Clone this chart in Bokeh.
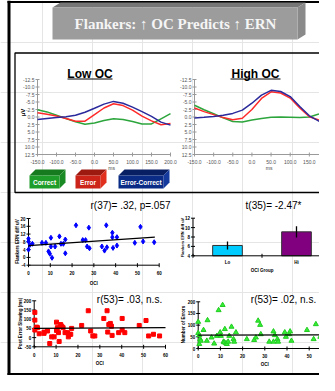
import numpy as np
from bokeh.plotting import figure
from bokeh.models import Range1d
from bokeh.embed import file_html
from bokeh.resources import INLINE
from bokeh.core.properties import value

# ---------------- data ----------------
title_text = "Flankers: \u2191 OC Predicts \u2191 ERN"

erp_ms = [-150, -125, -100, -75, -50, -25, 0, 25, 50, 75, 100, 125, 150, 175, 200]
low_correct = [-2.4, -1.7, -0.6, 0.5, 1.6, 2.4, 2.0, 1.2, 0.6, 0.8, 1.5, 2.3, 2.3, 0.6, -1.1]
low_error = [-1.4, -0.9, -0.3, 0.5, 1.4, 1.4, -0.8, -3.0, -4.4, -3.8, -2.3, -0.3, 1.3, 2.6, 2.2]
low_diff = [0.8, 0.5, 0.2, -0.1, -0.6, -1.6, -2.9, -4.3, -5.2, -4.6, -3.3, -1.8, -0.2, 1.7, 2.7]
high_correct = [-3.9, -2.4, -1.1, 0.3, 1.5, 1.7, 1.0, 0.5, 0.1, 0.0, 0.1, 0.2, 0.0, -1.0, -2.2]
high_error = [-3.0, -1.8, -0.8, 0.2, 0.9, 0.4, -2.5, -6.2, -8.4, -8.0, -6.3, -3.0, -0.1, 1.0, 1.1]
high_diff = [0.3, 0.1, -0.2, -0.6, -1.2, -2.3, -4.6, -7.3, -8.9, -8.5, -6.8, -3.5, -0.4, 1.4, 2.5]
erp_yticks = [-12.5, -10.0, -7.5, -5.0, -2.5, 0.0, 2.5, 5.0, 7.5, 10.0, 12.5]
erp_xticks = [-150, -100, -50, 0, 50, 100, 150, 200]
erp_xticks_high = [-150, -100, -50, 0, 50, 100, 150]

legend_names = ["Correct", "Error", "Error-Correct"]

blue_x = [0, 0, 0.6, 0, 1.8, 6.2, 8, 9.2, 9.8, 10.3, 10.3, 10.8, 12.2, 14.2, 14.9, 16, 16.9, 16.9,
          21.8, 24.9, 26.2, 26.9, 27.7, 28, 33.7, 34.9, 35.7, 36, 38.5, 38.5, 38.8, 40.6, 40.6,
          48.8, 51.4, 52.6, 57.7]
blue_y = [9.6, 8.2, 6.4, 4.0, 7.0, 7.5, 7.5, 3.1, 1.9, 10.1, 5.6, -0.2, 5.6, 10.8, 7.0, 7.0, 9.2, 2.1,
          16.5, 8.9, 8.9, 5.6, 15.3, 4.7, 5.6, 3.5, 16.5, 5.2, 12.7, 10.4, 4.9, 10.4, 6.1,
          7.5, 15.7, 8.2, 7.8]
blue_fit = (6.1, 0.074)   # intercept, slope

bar_groups = ["Lo", "Hi"]
bar_means = [6.2, 9.1]
bar_errs = [0.85, 1.2]
bar_colors = ["#00ccff", "#800080"]

red_x = [0.3, 0.3, 0.3, 1.1, 1.5, 2.3, 4.5, 4.5, 6.1, 7.1, 8, 9.1, 10.2, 10.2, 10.6, 11.1, 11.4,
         12.1, 12.6, 13.2, 14.1, 15.2, 15.6, 16.2, 16.7, 17.1, 21.7, 24.7, 25.8, 26.8, 27.7,
         31.8, 33.3, 33.6, 34.1, 34.8, 35.3, 35.6, 38.6, 40.2, 40.2, 41.4, 48, 51.1, 52.3, 54.5, 57.3]
red_y = [137, 95, 41, 57, 54, 21, 30, 23, 36, -32, 4, 4, 84, 39, 54, 27, -21,
         71, 62, 54, 27, 27, 4, 18, 18, 50, 66, 146, 36, 9, 9,
         104, 146, 30, 71, 77, 62, 12, 27, 104, 41, 27, 66, 93, 9, 18, 9]
red_fit = (50.0, 0.07)

green_x = [0, 0, 0.5, 0.5, 0.9, 1.2, 2.4, 3.9, 4.2, 6, 7.2, 8.4, 9.2, 9.9, 10.2, 11, 11.4, 11.7, 12,
           12.5, 12.9, 13.5, 14, 15, 15.9, 16.2, 17, 21.9, 25.2, 26, 27, 27.9, 28.2, 32, 33.9, 33.9,
           34.5, 35.7, 36, 39, 39.5, 41, 41.4, 42, 49, 52, 53, 55, 57.5]
green_y = [114, 66, 57, 19, 40, 33, 79, 33, 121, 47, 21, 54, 164, 69, 54, 186, 29, 26, 83,
           23, 19, 29, 54, 93, 40, 29, 69, 40, 36, 47, 119, 101, 61, 29, 29, 73,
           57, 40, 29, 69, 50, 61, 73, 33, 79, 40, 104, 50, 79]
green_fit = (57.0, 0.02)

oci_ticks = [0, 10, 20, 30, 40, 50, 60]
oci_ticks_green = [0, 10, 20, 30, 40, 50]

stat_texts = ["r(37)= .32, p=.057", "t(35)= -2.47*", "r(53)= .03, n.s.", "r(53)= .02, n.s."]

FONT = "Liberation Sans"
SERIF = "Liberation Serif"

# ---------------- canvas ----------------
X0, X1, Y0, Y1 = 8, 327, 383, 8
p = figure(width=319, height=375, x_range=Range1d(X0, X1), y_range=Range1d(Y0, Y1),
           output_backend="svg", toolbar_location=None, min_border=0,
           x_axis_location=None, y_axis_location=None)
p.outline_line_color = None
p.background_fill_color = "white"
p.border_fill_color = "white"

# panel placement: data value -> page pixel
panels = {
    "low":   (-150, 200, 45, 178, -12.5, 12.5, 87, 162),
    "high":  (-150, 200, 202, 336, -12.5, 12.5, 87, 162),
    "blue":  (0, 60, 36, 166.7, 20, -4, 226, 272.7),
    "bar":   (0, 2, 200.5, 338.5, 12, 4, 225.7, 263.3),
    "red":   (0, 60, 41.7, 173, 200, -50, 308.3, 354.3),
    "green": (0, 50, 205.7, 316.7, 200, 0, 309.3, 356),
}
xr, yr = {}, {}
for n, (dx0, dx1, px0, px1, dy0, dy1, py0, py1) in panels.items():
    kx = (px1 - px0) / (dx1 - dx0)
    ky = (py1 - py0) / (dy1 - dy0)
    xr[n] = Range1d(dx0 + (X0 - px0) / kx, dx0 + (X1 - px0) / kx)
    yr[n] = Range1d(dy0 + (Y0 - py0) / ky, dy0 + (Y1 - py0) / ky)
p.extra_x_ranges = xr
p.extra_y_ranges = yr


def R(n):
    return dict(x_range_name=n, y_range_name=n)


def txt(x, y, t, size, color="black", bold=False, align="center", baseline="middle",
        angle=0, font=FONT, xo=0, yo=0, **kw):
    p.text(x=x, y=y, text=t, text_font=value(font), text_font_size=size,
           text_font_style="bold" if bold else "normal", text_color=color,
           text_align=align, text_baseline=baseline, angle=angle,
           x_offset=xo, y_offset=yo, **kw)


def yaxis(n, x, lo, hi, ticks, labels, col, lcol, fs, bold):
    p.segment(x0=[x], y0=[lo], x1=[x], y1=[hi], line_color=col, line_width=1, **R(n))
    p.scatter(x=[x] * len(ticks), y=ticks, marker="dash", size=4, line_color=col, **R(n))
    txt([x] * len(ticks), ticks, labels, fs, color=lcol, bold=bold, align="right", xo=-3, **R(n))


def xaxis(n, y, lo, hi, ticks, labels, col, lcol, fs, bold, off):
    p.segment(x0=[lo], y0=[y], x1=[hi], y1=[y], line_color=col, line_width=1, **R(n))
    p.scatter(x=ticks, y=[y] * len(ticks), marker="dash", angle=np.pi / 2, size=4,
              line_color=col, **R(n))
    if labels:
        txt(ticks[:len(labels)], [y] * len(labels), labels, fs, color=lcol, bold=bold, yo=off, **R(n))


# ---------------- slide frame ----------------
p.segment(x0=[16.5], y0=[8], x1=[16.5], y1=[383], line_color="black", line_width=3)
p.segment(x0=[15], y0=[9.5], x1=[327], y1=[9.5], line_color="black", line_width=2)
p.segment(x0=[15], y0=[381.5], x1=[327], y1=[381.5], line_color="black", line_width=2)

# title box (3D)
p.patch(x=[60, 305, 313, 68], y=[15, 15, 10, 10], fill_color="#777777", line_color=None)
p.patch(x=[305, 313, 313, 305], y=[15, 10, 42, 47], fill_color="#8a8a8a", line_color=None)
p.quad(left=[60], right=[305], top=[15], bottom=[47], fill_color="#9c9c9c", line_color=None)
txt([183], [31.5], [title_text], "15px", color="#f5f5f5", bold=True, font=SERIF)

# ERP panel border
p.quad(left=[22.5], right=[345], top=[60.5], bottom=[200], fill_color=None,
       line_color="black", line_width=1.3)

# ---------------- ERP plots ----------------
erp_colors = {"c": "#2ca53c", "e": "#ff2a2a", "d": "#2a2a9c"}
tick_lbl = ["%.1f" % v for v in erp_yticks]
for n, cor, err, dif, xl in [("low", low_correct, low_error, low_diff, erp_xticks),
                             ("high", high_correct, high_error, high_diff, erp_xticks_high)]:
    yaxis(n, -150, -12.5, 12.5, erp_yticks, tick_lbl, "#9a9a9a", "#555555", "5px", False)
    xaxis(n, 12.5, -150, 200, erp_xticks, ["%.1f" % v for v in xl], "#9a9a9a", "#555555",
          "5px", False, 7)
    txt([45], [12.5], ["ms"], "5px", color="#444444", yo=13, **R(n))
    p.line(erp_ms, cor, line_color=erp_colors["c"], line_width=1.5, **R(n))
    p.line(erp_ms, err, line_color=erp_colors["e"], line_width=1.5, **R(n))
    p.line(erp_ms, dif, line_color=erp_colors["d"], line_width=1.5, **R(n))

txt([97.5], [81], ["Low OC"], "12px", bold=True)
p.segment(x0=[75], y0=[86.5], x1=[120], y1=[86.5], line_color="black", line_width=1)
txt([263], [81], ["High OC"], "12px", bold=True)
p.segment(x0=[238], y0=[86.5], x1=[288], y1=[86.5], line_color="black", line_width=1)
txt([30], [120], ["\u03bcV"], "6px", bold=True, angle=np.pi / 2)

# legend buttons
btn_left = [37, 83, 126]
btn_right = [67, 108, 171]
btn_front = ["#1f9d2b", "#cc2418", "#0b2c86"]
btn_top = ["#167a1f", "#9c1a10", "#081f63"]
btn_side = ["#1a8a25", "#e2301f", "#153a9e"]
d = 6
for L, Rt, f, t, s, name in zip(btn_left, btn_right, btn_front, btn_top, btn_side, legend_names):
    p.patch(x=[L, Rt, Rt + d, L + d], y=[183, 183, 177, 177], fill_color=t, line_color=None)
    p.patch(x=[Rt, Rt + d, Rt + d, Rt], y=[183, 177, 190, 196], fill_color=s, line_color=None)
    p.quad(left=[L], right=[Rt], top=[183], bottom=[196], fill_color=f, line_color=None)
    txt([(L + Rt) / 2], [189.5], [name], "6.5px", color="white", bold=True)

# ---------------- stats texts ----------------
txt([138], [213], [stat_texts[0]], "10px")
txt([281], [213], [stat_texts[1]], "10px")
txt([137], [306.5], [stat_texts[2]], "10px")
txt([291], [306.5], [stat_texts[3]], "10px")

# ---------------- blue scatter ----------------
yt = [-4, 0, 4, 8, 12, 16, 20]
yaxis("blue", 0, -4, 20, yt, [str(v) for v in yt], "black", "black", "4.5px", True)
xaxis("blue", -4, 0, 60, oci_ticks, [str(v) for v in oci_ticks], "black", "black", "4.5px", True, 8)
txt([30], [-4], ["OCI"], "4.5px", bold=True, yo=18, **R("blue"))
p.scatter(blue_x, blue_y, marker="diamond", size=5, fill_color="#0000ff", line_color="#0000ff", **R("blue"))
fx = np.array([0, 58])
p.line(fx, blue_fit[0] + blue_fit[1] * fx, line_color="black", line_width=1.2, **R("blue"))
txt([25], [249], ["Flankers ERN diff uV"], "4.5px", bold=True, angle=np.pi / 2)

# ---------------- bar chart ----------------
bx = [0.5, 1.5]
p.vbar(x=bx, top=bar_means, bottom=4, width=0.43, fill_color=bar_colors,
       line_color="#333333", line_width=1, **R("bar"))
lo_e = [m - e for m, e in zip(bar_means, bar_errs)]
hi_e = [m + e for m, e in zip(bar_means, bar_errs)]
p.segment(x0=bx, y0=lo_e, x1=bx, y1=hi_e, line_color="black", line_width=1.3, **R("bar"))
yt = [4, 6, 8, 10, 12]
yaxis("bar", 0, 4, 12, yt, [str(v) for v in yt], "black", "black", "4.5px", True)
xaxis("bar", 4, 0, 2, [0, 1, 2], None, "black", "black", "4.5px", True, 0)
txt(bx, [4, 4], bar_groups, "4.5px", bold=True, yo=7, **R("bar"))
txt([1], [4], ["OCI Group"], "4.5px", bold=True, yo=15, **R("bar"))
txt([190], [245], ["Flankers ERN diff uV"], "4px", bold=True, angle=np.pi / 2)

# ---------------- red scatter ----------------
yt = [-50, 0, 50, 100, 150, 200]
yaxis("red", 0, -50, 200, yt, [str(v) for v in yt], "black", "black", "4.5px", True)
xaxis("red", -50, 0, 60, oci_ticks, [str(v) for v in oci_ticks], "black", "black", "4.5px", True, 8.5)
txt([30], [-50], ["OCI"], "4.5px", bold=True, yo=17, **R("red"))
p.scatter(red_x, red_y, marker="square", size=4, fill_color="#ff0000", line_color="#ff0000", **R("red"))
fx = np.array([0, 60])
p.line(fx, red_fit[0] + red_fit[1] * fx, line_color="black", line_width=1.3, **R("red"))
txt([28], [331], ["Post Error Slowing (ms)"], "4.5px", bold=True, angle=np.pi / 2)

# ---------------- green scatter ----------------
yt = [0, 50, 100, 150, 200]
yaxis("green", 0, 0, 200, yt, [str(v) for v in yt], "black", "black", "4.5px", True)
xaxis("green", 0, 0, 60, oci_ticks, [str(v) for v in oci_ticks_green], "black", "black", "4.5px", True, 7.5)
txt([30], [0], ["OCI"], "4.5px", bold=True, yo=16, **R("green"))
p.scatter(green_x, green_y, marker="triangle", size=5, fill_color="#33ee33", line_color="#22cc22", **R("green"))
p.line(fx, green_fit[0] + green_fit[1] * fx, line_color="black", line_width=1.3, **R("green"))
txt([191], [332], ["Number of Errors"], "4.5px", bold=True, angle=np.pi / 2)

open("out.html", "w").write(file_html(p, INLINE))
